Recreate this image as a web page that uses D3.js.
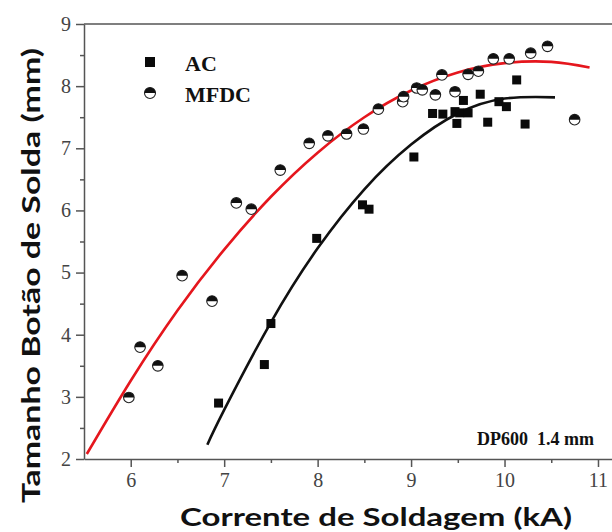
<!DOCTYPE html>
<html>
<head>
<meta charset="utf-8">
<script src="https://cdn.jsdelivr.net/npm/d3@7"></script>
<style>
  html, body { margin: 0; padding: 0; background: #fff; }
  svg { display: block; }
</style>
</head>
<body>
<svg id="chart" width="612" height="532"></svg>
<script>
// ---- data ----
const acX = [6.94, 7.43, 7.50, 7.99, 8.48, 8.55, 9.03, 9.23, 9.34, 9.47, 9.52, 9.61, 9.49, 9.56, 9.74, 9.82, 9.94, 10.02, 10.13, 10.22];
const acY = [2.90, 3.52, 4.18, 5.55, 6.09, 6.02, 6.86, 7.56, 7.55, 7.59, 7.57, 7.57, 7.40, 7.77, 7.87, 7.42, 7.75, 7.67, 8.10, 7.39];

const mfdcX = [5.98, 6.10, 6.29, 6.55, 6.87, 7.13, 7.29, 7.60, 7.91, 8.11, 8.31, 8.49, 8.65, 8.91, 8.92, 9.06, 9.12, 9.26, 9.33, 9.47, 9.61, 9.72, 9.88, 10.05, 10.28, 10.46, 10.75];
const mfdcY = [2.99, 3.80, 3.50, 4.95, 4.54, 6.12, 6.02, 6.65, 7.08, 7.20, 7.23, 7.31, 7.63, 7.75, 7.83, 7.97, 7.94, 7.86, 8.18, 7.91, 8.19, 8.24, 8.44, 8.44, 8.53, 8.64, 7.46];

// fitted curves
const acFitX = [6.82, 7.0, 7.5, 8.0, 8.5, 9.0, 9.5, 10.0, 10.54];
const acFitY = [2.23, 2.79, 4.20, 5.39, 6.34, 7.06, 7.56, 7.80, 7.82];
const mfdcFitX = [5.53, 6.0, 6.5, 7.0, 7.5, 8.0, 8.5, 9.0, 9.5, 10.0, 10.5, 10.91];
const mfdcFitY = [2.08, 3.26, 4.39, 5.37, 6.22, 6.93, 7.50, 7.93, 8.22, 8.37, 8.39, 8.30];

const xTicks = [6, 7, 8, 9, 10, 11];
const xMinor = [6.5, 7.5, 8.5, 9.5, 10.5];
const yTicks = [2, 3, 4, 5, 6, 7, 8, 9];
const yMinor = [2.5, 3.5, 4.5, 5.5, 6.5, 7.5, 8.5];

const seriesNames = ["AC", "MFDC"];
const xTitle = "Corrente de Soldagem (kA)";
const yTitle = "Tamanho Botão de Solda (mm)";
const note = "DP600  1.4 mm";

// ---- drawing ----
const svg = d3.select("#chart");
const x = d3.scaleLinear().domain([5.5, 11.15]).range([84, 612]);
const y = d3.scaleLinear().domain([2, 9]).range([459, 24]);

const axisColor = "#555";
const tickFont = "'Liberation Serif', 'Times New Roman', serif";

// top frame line
svg.append("line")
  .attr("x1", x(5.5)).attr("x2", x(11.15))
  .attr("y1", y(9)).attr("y2", y(9))
  .attr("stroke", axisColor).attr("stroke-width", 1.5);

// bottom axis
const gx = svg.append("g").attr("transform", `translate(0,${y(2)})`)
  .call(d3.axisBottom(x).tickValues(xTicks).tickSize(8).tickSizeOuter(0).tickPadding(6).tickFormat(d3.format("d")));
gx.append("g").call(d3.axisBottom(x).tickValues(xMinor).tickSize(4).tickFormat(""))
  .select(".domain").remove();

// left axis
const gy = svg.append("g").attr("transform", `translate(${x(5.5)},0)`)
  .call(d3.axisLeft(y).tickValues(yTicks).tickSize(8).tickSizeOuter(0).tickPadding(5).tickFormat(d3.format("d")));
gy.append("g").call(d3.axisLeft(y).tickValues(yMinor).tickSize(4).tickFormat(""))
  .select(".domain").remove();

[gx, gy].forEach(g => {
  g.selectAll(".domain").attr("stroke", axisColor).attr("stroke-width", 1.5);
  g.selectAll(".tick line").attr("stroke", axisColor).attr("stroke-width", 1.5);
  g.selectAll(".tick text").attr("fill", "#444").style("font-family", tickFont).style("font-size", "20px");
});

// fit curves
const lineGen = d3.line().x(d => x(d[0])).y(d => y(d[1])).curve(d3.curveNatural);
svg.append("path").datum(mfdcFitX.map((v, i) => [v, mfdcFitY[i]]))
  .attr("d", lineGen).attr("fill", "none").attr("stroke", "#e5161d").attr("stroke-width", 2.6);
svg.append("path").datum(acFitX.map((v, i) => [v, acFitY[i]]))
  .attr("d", lineGen).attr("fill", "none").attr("stroke", "#111").attr("stroke-width", 2.6);

// half-filled circle marker
function halfCircle(g, cx, cy, r) {
  const m = g.append("g").attr("transform", `translate(${cx},${cy})`);
  m.append("circle").attr("r", r).attr("fill", "#fff").attr("stroke", "#222").attr("stroke-width", 1.1);
  m.append("path").attr("d", `M${-r},0 A${r},${r} 0 0 1 ${r},0 Z`).attr("fill", "#111");
}

const sq = 9;
svg.append("g").selectAll("rect").data(acX.map((v, i) => [v, acY[i]])).join("rect")
  .attr("x", d => x(d[0]) - sq / 2).attr("y", d => y(d[1]) - sq / 2)
  .attr("width", sq).attr("height", sq).attr("fill", "#0a0a0a");

const gc = svg.append("g");
mfdcX.forEach((v, i) => halfCircle(gc, x(v), y(mfdcY[i]), 5.3));

// legend
const legFont = "'Liberation Serif', 'Times New Roman', serif";
svg.append("rect").attr("x", 145).attr("y", 57).attr("width", 10).attr("height", 10).attr("fill", "#0a0a0a");
svg.append("text").attr("x", 185).attr("y", 71).text(seriesNames[0])
  .style("font-family", legFont).style("font-weight", "bold").style("font-size", "22px").attr("fill", "#111");
halfCircle(svg, 150, 93, 5.5);
svg.append("text").attr("x", 185).attr("y", 102).text(seriesNames[1])
  .style("font-family", legFont).style("font-weight", "bold").style("font-size", "22px").attr("fill", "#111");

// note
svg.append("text").attr("x", 477).attr("y", 445).text(note)
  .style("font-family", legFont).style("font-weight", "bold").style("font-size", "18px")
  .style("white-space", "pre").attr("fill", "#111");

// axis titles
const titleFont = "Lato, 'Open Sans', sans-serif";
svg.append("text").attr("x", 180).attr("y", 526).text(xTitle)
  .attr("textLength", 392).attr("lengthAdjust", "spacingAndGlyphs")
  .style("font-family", titleFont).style("font-weight", "bold").style("font-size", "25px").attr("fill", "#111");
svg.append("text").attr("transform", "translate(40,503) rotate(-90)").text(yTitle)
  .attr("textLength", 455).attr("lengthAdjust", "spacingAndGlyphs")
  .style("font-family", titleFont).style("font-weight", "bold").style("font-size", "25px").attr("fill", "#111");
</script>
</body>
</html>
